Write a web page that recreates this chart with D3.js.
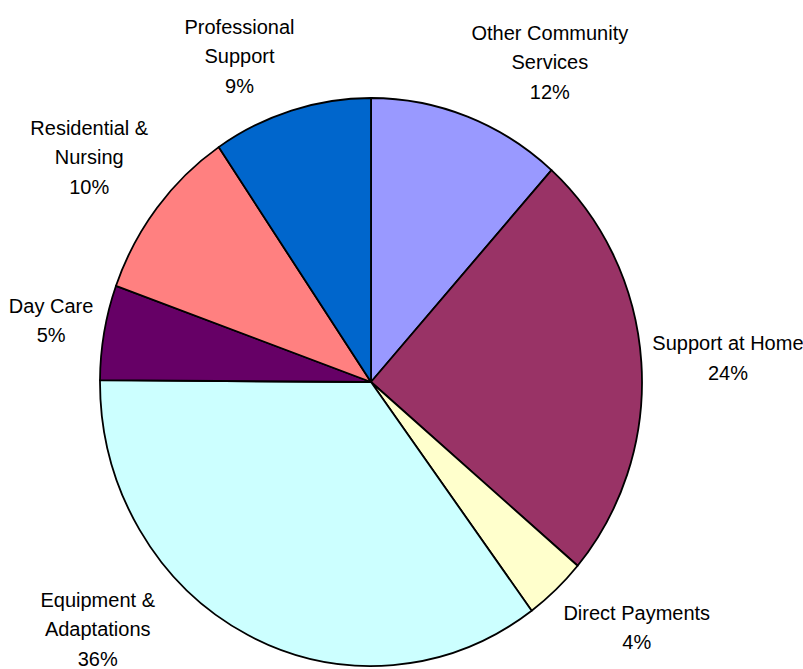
<!DOCTYPE html>
<html>
<head>
<meta charset="utf-8">
<script src="https://cdn.jsdelivr.net/npm/d3@7"></script>
<style>
  body { margin: 0; background: #fff; overflow: hidden; }
  text { font-family: "Liberation Sans", Arial, sans-serif; font-size: 20px; fill: #000; }
</style>
</head>
<body>
<script>
// Slice data, clockwise from 12 o'clock
var categories = ["Other Community Services", "Support at Home", "Direct Payments",
    "Equipment & Adaptations", "Day Care", "Residential & Nursing", "Professional Support"];
var labelLines = [["Other Community", "Services"], ["Support at Home"], ["Direct Payments"],
    ["Equipment &", "Adaptations"], ["Day Care"], ["Residential &", "Nursing"], ["Professional", "Support"]];
var shares = [11.6, 24.6, 3.7, 35.2, 5.4, 10.0, 9.5]; // share of spend
var pctLabels = ["12%", "24%", "4%", "36%", "5%", "10%", "9%"];
var colors = ["#9999FF", "#993366", "#FFFFCC", "#CCFFFF", "#660066", "#FF8080", "#0066CC"];

var W = 803, H = 669;
var cx = 371, cy = 382;   // pie centre
var rx = 271, ry = 284;   // the picture is slightly stretched vertically
var lineH = 29.5, gap = 11;

var data = categories.map(function(c, i) {
    return { name: c, v: shares[i], lines: labelLines[i].concat([pctLabels[i]]), color: colors[i] };
});

var svg = d3.select("body").append("svg")
    .attr("width", W)
    .attr("height", H);

var pie = d3.pie().sort(null).value(function(d) { return d.v; });
var arc = d3.arc().innerRadius(0).outerRadius(rx);
var arcs = pie(data);

var pieG = svg.append("g")
    .attr("transform", "translate(" + cx + "," + cy + ") scale(1," + (ry / rx) + ")");

pieG.selectAll("path")
    .data(arcs)
    .enter()
    .append("path")
    .attr("d", arc)
    .attr("fill", function(d) { return d.data.color; })
    .attr("stroke", "#000")
    .attr("stroke-width", 1.8)
    .attr("stroke-linejoin", "round")
    .attr("vector-effect", "non-scaling-stroke");

// Labels: box placed just outside the pie along the slice's mid angle
function clamp(v) { return Math.max(-1, Math.min(1, v)); }

var labelG = svg.append("g");
arcs.forEach(function(d) {
    var mid = (d.startAngle + d.endAngle) / 2;
    var s = Math.sin(mid), c = Math.cos(mid);
    var t = labelG.append("text").attr("text-anchor", "middle");
    d.data.lines.forEach(function(l) { t.append("tspan").text(l); });
    var w = 0;
    t.selectAll("tspan").each(function() { w = Math.max(w, this.getComputedTextLength()); });
    var h = lineH * d.data.lines.length;

    var px = cx + (rx + gap) * s, py = cy - (ry + gap) * c;
    var bx = px + w / 2 * clamp(3 * s);
    var by = py - h / 2 * clamp(2 * c);

    // keep the box inside the chart area, sliding it sideways off the pie
    if (by + h / 2 > H + 4) {
        by = H + 4 - h / 2;
        var top = by - h / 2;
        var k = (top - cy) / ry;
        var ex = rx * Math.sqrt(Math.max(0, 1 - k * k));
        if (s < 0) bx = cx - ex - 26 - w / 2;
        else bx = cx + ex + 26 + w / 2;
    }

    var top0 = by - h / 2;
    t.selectAll("tspan")
        .attr("x", bx)
        .attr("y", function(l, i) { return top0 + 22 + i * lineH; });
});
</script>
</body>
</html>
